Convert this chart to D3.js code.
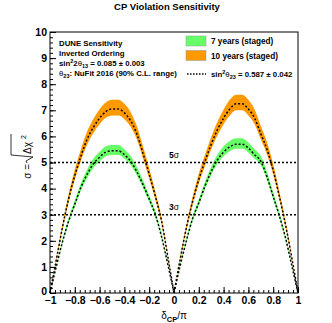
<html>
<head>
<style>
body { margin: 0; background: #fff; }
text { font-family: "Liberation Sans", Arial, sans-serif; }
</style>
<script src="https://cdn.jsdelivr.net/npm/d3@7"></script>
</head>
<body>
<svg id="container" width="332" height="323"></svg>
<script>
// delta_CP / pi grid
const deltaCP = [-1, -0.95, -0.9, -0.85, -0.8, -0.75, -0.7, -0.65, -0.6, -0.55, -0.5, -0.45, -0.4, -0.35, -0.3, -0.25, -0.2, -0.15, -0.1, -0.05, 0,
  0.05, 0.1, 0.15, 0.2, 0.25, 0.3, 0.35, 0.4, 0.45, 0.5, 0.55, 0.6, 0.65, 0.7, 0.75, 0.8, 0.85, 0.9, 0.95, 1]

// 10 years (staged)
const sigma10 = [0, 1.25, 2.5, 3.6, 4.5, 5.25, 5.9, 6.35, 6.7, 6.95, 7.05, 7.05, 6.9, 6.6, 6.1, 5.35, 4.55, 3.7, 2.75, 1.4, 0,
  1.3, 2.5, 3.5, 4.35, 5.05, 5.7, 6.25, 6.7, 7.05, 7.25, 7.25, 7.05, 6.7, 6.1, 5.5, 4.7, 3.7, 2.6, 1.35, 0]
const sigma10Hi = [0, 1.32, 2.62, 3.78, 4.73, 5.52, 6.2, 6.67, 7.04, 7.3, 7.4, 7.4, 7.25, 6.93, 6.4, 5.62, 4.78, 3.88, 2.89, 1.47, 0,
  1.37, 2.63, 3.68, 4.57, 5.3, 5.98, 6.56, 7.03, 7.4, 7.6, 7.6, 7.4, 7.03, 6.4, 5.78, 4.94, 3.88, 2.73, 1.42, 0]
const sigma10Lo = [0, 1.2, 2.41, 3.47, 4.34, 5.07, 5.69, 6.13, 6.47, 6.71, 6.8, 6.8, 6.66, 6.37, 5.89, 5.16, 4.39, 3.57, 2.65, 1.35, 0,
  1.25, 2.41, 3.38, 4.2, 4.87, 5.5, 6.03, 6.47, 6.8, 7.0, 7.0, 6.8, 6.47, 5.89, 5.31, 4.54, 3.57, 2.51, 1.3, 0]

// 7 years (staged)
const sigma7 = [0, 1.0, 1.95, 2.75, 3.4, 4.05, 4.55, 4.95, 5.2, 5.4, 5.45, 5.45, 5.3, 5.05, 4.65, 4.15, 3.6, 3.0, 2.15, 1.1, 0,
  1.05, 2.0, 2.85, 3.45, 4.1, 4.65, 5.1, 5.4, 5.6, 5.7, 5.7, 5.55, 5.3, 5.05, 4.45, 3.7, 2.95, 2.1, 1.05, 0]
const sigma7Hi = [0, 1.04, 2.03, 2.86, 3.54, 4.21, 4.73, 5.15, 5.41, 5.62, 5.67, 5.67, 5.51, 5.25, 4.84, 4.32, 3.74, 3.12, 2.24, 1.14, 0,
  1.09, 2.08, 2.96, 3.59, 4.26, 4.84, 5.3, 5.62, 5.82, 5.93, 5.93, 5.77, 5.51, 5.25, 4.63, 3.85, 3.07, 2.18, 1.09, 0]
const sigma7Lo = [0, 0.97, 1.89, 2.67, 3.3, 3.93, 4.41, 4.8, 5.04, 5.24, 5.29, 5.29, 5.14, 4.9, 4.51, 4.03, 3.49, 2.91, 2.09, 1.07, 0,
  1.02, 1.94, 2.76, 3.35, 3.98, 4.51, 4.95, 5.24, 5.43, 5.53, 5.53, 5.38, 5.14, 4.9, 4.32, 3.59, 2.86, 2.04, 1.02, 0]

const xTicks = [-1, -0.8, -0.6, -0.4, -0.2, 0, 0.2, 0.4, 0.6, 0.8, 1]
const yTicks = [0, 1, 2, 3, 4, 5, 6, 7, 8, 9, 10]
const sigmaLevels = [3, 5]
const legendLabels = ["7 years (staged)", "10 years (staged)"]

let svg = d3.select("#container")
let mLeft = 50, mRight = 298, mTop = 32, mBottom = 293

let x = d3.scaleLinear().domain([-1, 1]).range([mLeft, mRight])
let y = d3.scaleLinear().domain([0, 10]).range([mBottom, mTop])

function rows(mid, lo, hi) {
  return deltaCP.map((d, i) => ({ d: d, m: mid[i], lo: lo[i], hi: hi[i] }))
}
// split at delta = 0 so the V stays sharp
function halves(r) { return [r.slice(0, 21), r.slice(20)] }

let area = d3.area().curve(d3.curveMonotoneX)
  .x(d => x(d.d)).y0(d => y(d.lo)).y1(d => y(d.hi))
let line = d3.line().curve(d3.curveMonotoneX)
  .x(d => x(d.d)).y(d => y(d.m))

let series = [
  { rows: rows(sigma10, sigma10Lo, sigma10Hi), color: "#ff9900" },
  { rows: rows(sigma7, sigma7Lo, sigma7Hi), color: "#66ff66" }
]

let plot = svg.append("g")
series.forEach(s => {
  halves(s.rows).forEach(h => {
    plot.append("path").attr("d", area(h)).attr("fill", s.color)
  })
})
series.forEach(s => {
  halves(s.rows).forEach(h => {
    plot.append("path").attr("d", line(h)).attr("fill", "none")
      .attr("stroke", "#000").attr("stroke-width", 1.5).attr("stroke-dasharray", "2,2")
  })
})

// 3 sigma / 5 sigma lines
sigmaLevels.forEach(v => {
  plot.append("line")
    .attr("x1", mLeft).attr("x2", mRight).attr("y1", y(v)).attr("y2", y(v))
    .attr("stroke", "#000").attr("stroke-width", 1.5).attr("stroke-dasharray", "2,2")
  let t = plot.append("text").attr("x", x(0)).attr("y", y(v) - 5)
    .attr("text-anchor", "middle").attr("font-size", 8.5)
  t.append("tspan").attr("font-weight", "bold").text(v)
  t.append("tspan").text("σ")
})

// axes
function styleAxis(g) {
  g.select(".domain").remove()
  g.attr("font-family", null).attr("font-size", null)
  g.selectAll("text").attr("font-size", 10.5).attr("font-weight", "bold").attr("fill", "#000")
}
let xMinor = d3.range(-1, 1.0001, 0.04)
let yMinor = d3.range(0, 10.0001, 0.2)

svg.append("g").attr("transform", "translate(0," + mBottom + ")")
  .call(d3.axisBottom(x).tickValues(xMinor).tickSize(-3).tickFormat(""))
  .call(g => g.select(".domain").remove())
svg.append("g").attr("transform", "translate(0," + mBottom + ")")
  .call(d3.axisBottom(x).tickValues(xTicks).tickSize(-6).tickPadding(4).tickFormat(d3.format("~g")))
  .call(styleAxis)
svg.append("g").attr("transform", "translate(" + mLeft + ",0)")
  .call(d3.axisLeft(y).tickValues(yMinor).tickSize(-3).tickFormat(""))
  .call(g => g.select(".domain").remove())
svg.append("g").attr("transform", "translate(" + mLeft + ",0)")
  .call(d3.axisLeft(y).tickValues(yTicks).tickSize(-6).tickPadding(3))
  .call(styleAxis)
  .call(g => g.selectAll(".tick text").filter(d => d === 0).attr("dy", "0.1em"))

svg.append("rect").attr("x", mLeft).attr("y", mTop)
  .attr("width", mRight - mLeft).attr("height", mBottom - mTop)
  .attr("fill", "none").attr("stroke", "#000").attr("stroke-width", 1)

// title
svg.append("text").attr("x", 167).attr("y", 10).attr("text-anchor", "middle")
  .attr("font-size", 9.5).attr("font-weight", "bold").text("CP Violation Sensitivity")

// info text
let info = svg.append("g").attr("font-size", 7.8).attr("font-weight", "bold")
info.append("text").attr("x", 59).attr("y", 45.5).text("DUNE Sensitivity")
info.append("text").attr("x", 59).attr("y", 56).text("Inverted Ordering")
let s13 = info.append("text").attr("x", 59).attr("y", 66)
s13.append("tspan").text("sin")
s13.append("tspan").attr("font-size", 5.5).attr("dy", -3).text("2")
s13.append("tspan").attr("dy", 3).text("2")
s13.append("tspan").attr("font-weight", "normal").text("θ")
s13.append("tspan").attr("font-size", 5.5).attr("dy", 2).text("13")
s13.append("tspan").attr("dy", -2).text(" = 0.085 ± 0.003")
let t23 = info.append("text").attr("x", 59).attr("y", 75.5)
t23.append("tspan").attr("font-weight", "normal").text("θ")
t23.append("tspan").attr("font-size", 5.5).attr("dy", 2).text("23")
t23.append("tspan").attr("dy", -2).text(": NuFit 2016 (90% C.L. range)")

// legend
let legend = svg.append("g").attr("font-size", 8.2).attr("font-weight", "bold")
let legendColors = ["#66ff66", "#ff9900"]
legendLabels.forEach((lab, i) => {
  let yy = 36 + i * 14.5
  legend.append("rect").attr("x", 186).attr("y", yy).attr("width", 20).attr("height", 10)
    .attr("fill", legendColors[i]).attr("stroke", "#999").attr("stroke-width", 0.5)
  legend.append("text").attr("x", 211).attr("y", yy + 8).text(lab)
})
legend.append("line").attr("x1", 187).attr("x2", 206).attr("y1", 74).attr("y2", 74)
  .attr("stroke", "#000").attr("stroke-width", 1.5).attr("stroke-dasharray", "1.5,1.5")
let l23 = legend.append("text").attr("x", 211).attr("y", 76.5).attr("font-size", 7.8)
l23.append("tspan").text("sin")
l23.append("tspan").attr("font-size", 5.5).attr("dy", -3).text("2")
l23.append("tspan").attr("dy", 3).attr("font-weight", "normal").text("θ")
l23.append("tspan").attr("font-size", 5.5).attr("dy", 2).text("23")
l23.append("tspan").attr("dy", -2).text(" = 0.587 ± 0.042")

// x label
let xl = svg.append("text").attr("x", 174).attr("y", 319).attr("text-anchor", "middle").attr("font-size", 10)
xl.append("tspan").text("δ")
xl.append("tspan").attr("font-size", 7.5).attr("font-weight", "bold").attr("dy", 2.5).text("CP")
xl.append("tspan").attr("dy", -2.5).text("/π")

// y label: sigma = sqrt(delta chi^2)
let yl = svg.append("g").attr("transform", "translate(31,160) rotate(-90)")
yl.append("text").attr("x", -4).attr("y", 0).attr("text-anchor", "end").attr("font-size", 10).text("σ =")
yl.append("text").attr("x", 6).attr("y", 0).attr("font-size", 10).text("Δχ")
yl.append("text").attr("x", 21).attr("y", -5).attr("font-size", 7).text("2")
yl.append("path").attr("d", "M-3,-4 L-1,-5 L3,2 L5,-20 L26,-20")
  .attr("fill", "none").attr("stroke", "#000").attr("stroke-width", 0.8)
</script>
</body>
</html>
